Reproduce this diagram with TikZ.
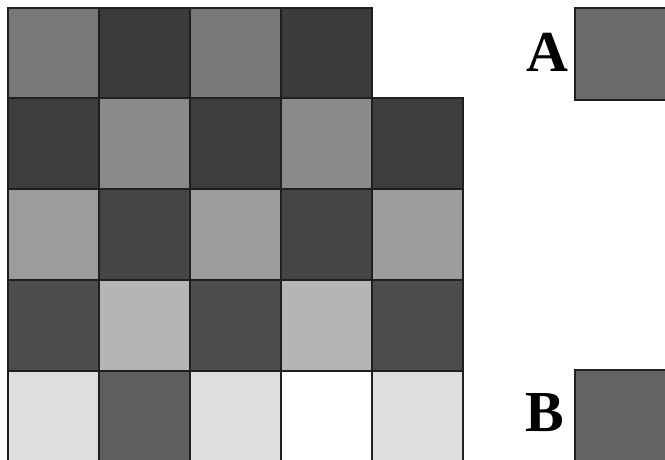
\documentclass[tikz,border=0pt]{standalone}
\usepackage{fontspec}
\setmainfont{Liberation Serif}
\begin{document}
\begin{tikzpicture}[x=1pt,y=-1pt,
  cell/.style={draw=black!88,line width=2pt},
  letter/.style={inner sep=0pt,font=\fontsize{58}{58}\selectfont\bfseries}]
\useasboundingbox (0,0) rectangle (665,459);
\begin{scope}
\clip (0,0) rectangle (665,459);
% colours per row
\definecolor{r0a}{gray}{0.47}\definecolor{r0b}{gray}{0.23}
\definecolor{r1a}{gray}{0.24}\definecolor{r1b}{gray}{0.54}
\definecolor{r2a}{gray}{0.61}\definecolor{r2b}{gray}{0.27}
\definecolor{r3a}{gray}{0.30}\definecolor{r3b}{gray}{0.71}
\definecolor{r4a}{gray}{0.87}\definecolor{r4b}{gray}{0.37}
\definecolor{boxA}{gray}{0.42}\definecolor{boxB}{gray}{0.39}
% row 0
\foreach \c/\col in {0/r0a,1/r0b,2/r0a,3/r0b}
  \draw[cell,fill=\col] (8+91*\c,8) rectangle ++(91,90);
% row 1
\foreach \c/\col in {0/r1a,1/r1b,2/r1a,3/r1b,4/r1a}
  \draw[cell,fill=\col] (8+91*\c,98) rectangle ++(91,91);
% row 2
\foreach \c/\col in {0/r2a,1/r2b,2/r2a,3/r2b,4/r2a}
  \draw[cell,fill=\col] (8+91*\c,189) rectangle ++(91,91);
% row 3
\foreach \c/\col in {0/r3a,1/r3b,2/r3a,3/r3b,4/r3a}
  \draw[cell,fill=\col] (8+91*\c,280) rectangle ++(91,91);
% row 4
\foreach \c/\col in {0/r4a,1/r4b,2/r4a,3/white,4/r4a}
  \draw[cell,fill=\col] (8+91*\c,371) rectangle ++(91,92);
% sample boxes
\draw[cell,fill=boxA] (575,8) rectangle (680,100);
\draw[cell,fill=boxB] (575,370) rectangle (680,470);
\end{scope}
\node[letter] (A) at (547,52) {A};
\node[letter] (B) at (545,413) {B};
\end{tikzpicture}
\end{document}
